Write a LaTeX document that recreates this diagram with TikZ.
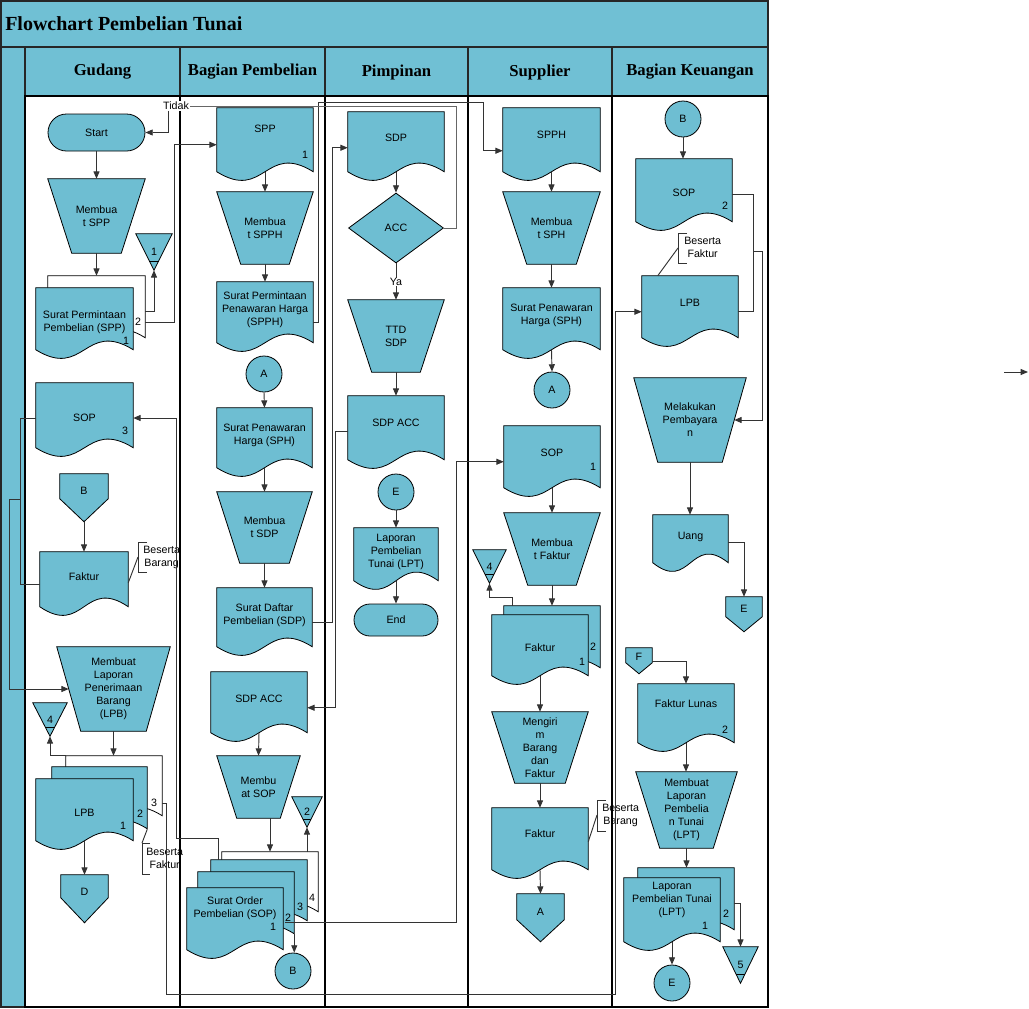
\documentclass[tikz,border=0pt]{standalone}
\usepackage{fontspec}
\setmainfont{Liberation Sans}
\newfontfamily\headfont{Liberation Serif}
\usetikzlibrary{calc,arrows.meta,shapes.geometric,shapes.misc}
\definecolor{sfill}{RGB}{110,190,210}
\definecolor{hfill}{RGB}{112,192,212}
\pgfdeclarelayer{lanes}
\pgfdeclarelayer{shapes}
\pgfsetlayers{lanes,shapes,main}
\newcommand\bodyf{\fontsize{8}{9.75}\selectfont}
\newcommand\docshape[3][sfill]{%
 \begin{pgfonlayer}{shapes}
 \filldraw[fill=#1,draw=black,line width=0.6pt] (#2.north west) -- (#2.north east) -- ($(#2.north east)+(0,#3)$) .. controls ($(#2.north)+(0,#3-30)$) and ($(#2.north)+(0,#3+30)$) .. ($(#2.north west)+(0,#3)$) -- cycle;
 \end{pgfonlayer}
 \coordinate (#2-b) at ($(#2.north)+(0,#3)$);}
\newcommand\trapshape[2]{%
 \begin{pgfonlayer}{shapes}
 \filldraw[fill=sfill,draw=black,line width=0.6pt] (#1.north west) -- (#1.north east) -- ($(#1.south east)+(-#2,0)$) -- ($(#1.south west)+(#2,0)$) -- cycle;
 \end{pgfonlayer}
 \coordinate (#1-l) at ($(#1.west)+(#2/2,0)$);
 \coordinate (#1-r) at ($(#1.east)+(-#2/2,0)$);}
\newcommand\offshape[3]{%
 \begin{pgfonlayer}{shapes}
 \filldraw[fill=sfill,draw=black,line width=0.6pt] (#1.north west) -- (#1.north east) -- ($(#1.north east)+(0,#2)$) -- ($(#1.north)+(0,#3)$) -- ($(#1.north west)+(0,#2)$) -- cycle;
 \end{pgfonlayer}
 \coordinate (#1-t) at ($(#1.north)+(0,#3)$);}
\newcommand\trishape[1]{%
 \begin{pgfonlayer}{shapes}
 \filldraw[fill=sfill,draw=black,line width=0.6pt] (#1.north west) -- (#1.north east) -- (#1.south) -- cycle;
 \draw[line width=0.6pt] ($(#1.north west)!0.75!(#1.south)$) -- ($(#1.north east)!0.75!(#1.south)$);
 \end{pgfonlayer}}
\begin{document}
\begin{tikzpicture}[x=0.75pt,y=-0.75pt,
 bx/.style 2 args={inner sep=0pt,minimum width=#1*0.75pt,minimum height=#2*0.75pt,align=center,font=\bodyf},
 lbl/.style={inner sep=0.5pt,font=\bodyf},
 ann/.style={inner sep=0pt,font=\bodyf,align=center,anchor=west},
 circ/.style={circle,draw=black,line width=0.6pt,fill=sfill,inner sep=0pt,minimum size=27pt,font=\bodyf},
 term/.style 2 args={rounded rectangle,draw=black,line width=0.6pt,fill=sfill,inner sep=0pt,minimum width=#1*0.75pt,minimum height=#2*0.75pt,font=\bodyf},
 conn/.style={draw=black!80,line width=0.7pt},
 arr/.style={conn,-{Triangle[length=5.5pt,width=4.5pt]}},
 hdr/.style={inner sep=0pt,font=\headfont\bfseries\fontsize{12.5}{15}\selectfont}]
\useasboundingbox (0,0) rectangle (1029,1008);
\begin{pgfonlayer}{lanes}
\fill[white] (0,0) rectangle (1029,1008);
\filldraw[fill=hfill,draw=black!85,line width=1.4pt] (0.9,0.9) rectangle (768,47);
\filldraw[fill=hfill,draw=black!85,line width=1.4pt] (0.9,47) rectangle (25,1007.1);
\foreach \a/\b in {25/180,180/325,325/468,468/612,612/768}
  \filldraw[fill=hfill,draw=black!85,line width=1.4pt] (\a,47) rectangle (\b,96);
\draw[line width=1.1pt] (25,96) rectangle (768,1007);
\foreach \a in {180,325,468,612} \draw[line width=1pt] (\a,96) -- (\a,1007);
\end{pgfonlayer}
% title and headers
\node[anchor=west,inner sep=0pt,font=\headfont\bfseries\fontsize{15}{18}\selectfont] (title) at (5,24) {Flowchart Pembelian Tunai};
\node[hdr] (h1) at (102.5,72) {Gudang};
\node[hdr] (h2) at (252.5,72) {Bagian Pembelian};
\node[hdr] (h3) at (396.5,72) {Pimpinan};
\node[hdr] (h4) at (540,72) {Supplier};
\node[hdr] (h5) at (690,72) {Bagian Keuangan};
% ---------------- Gudang
\node[term={97}{37}] (start) at (96.5,132.5) {Start};
\node[bx={97}{74}] (mspp) at (96.5,216) {Membua\\t SPP}; \trapshape{mspp}{24}
\node[bx={36}{36}] (tri1) at (154,252) {1}; \trishape{tri1}
\node[bx={97}{62}] (sppB) at (96.5,307) {}; \docshape[white]{sppB}{62}
\node[bx={97}{69}] (sppA) at (84.5,322.5) {Surat Permintaan\\Pembelian (SPP)}; \docshape{sppA}{62}
\node[lbl] (sppA1) at (126,341) {1};
\node[lbl] (sppB2) at (138,322) {2};
\node[bx={97}{70}] (sop3) at (84.5,418) {SOP}; \docshape{sop3}{65}
\node[lbl] (sop3n) at (125,431) {3};
\node[bx={48}{34}] (bG) at (84,491) {B}; \offshape{bG}{25}{48}
\node[bx={88}{50}] (fak1) at (84,577) {Faktur}; \docshape{fak1}{55}
\node[ann] (ann1) at (143,557) {Beserta\\Barang};
\draw[conn] (147,542) -- (138,542) -- (138,572) -- (147,572);
\coordinate (br1) at (138,557);
\draw[conn] (br1) -- ($(fak1.north east)+(0,31)$);
\node[bx={113}{84}] (mlpb) at (113.5,689) {Membuat\\Laporan\\Penerimaan\\Barang\\(LPB)}; \trapshape{mlpb}{24}
\node[bx={34}{33}] (tri4g) at (50,719.5) {4}; \trishape{tri4g}
\node[bx={96}{60}] (lpbC) at (114,786) {}; \docshape[white]{lpbC}{60}
\node[bx={95}{62}] (lpbB) at (99.5,798) {}; \docshape{lpbB}{62}
\node[bx={97}{68}] (lpbA) at (84.5,813) {LPB}; \docshape{lpbA}{62}
\node[lbl] (lpbA1) at (123,826) {1};
\node[lbl] (lpbB2) at (140,814) {2};
\node[lbl] (lpbC3) at (154,803) {3};
\node[bx={47}{34}] (dG) at (84.5,892) {D}; \offshape{dG}{23}{48}
\node[ann] (ann2) at (146,858) {Beserta\\Faktur};
\draw[conn] (150,843) -- (142,843) -- (142,874) -- (150,874);
\coordinate (br2) at (142,843);
\draw[conn] (lpbB.south east) -- (br2);
% ---------------- Bagian Pembelian
\node[bx={96}{42}] (sppP) at (265,129) {SPP}; \docshape{sppP}{64}
\node[lbl] (sppP1) at (305,155) {1};
\node[bx={96}{72}] (mspph) at (265,228) {Membua\\t SPPH}; \trapshape{mspph}{24}
\node[bx={96}{56}] (spph) at (265,310) {Surat Permintaan\\Penawaran Harga\\(SPPH)}; \docshape{spph}{61}
\node[circ] (aP) at (264,374) {A};
\node[bx={95}{55}] (sphP) at (264.5,435.5) {Surat Penawaran\\Harga (SPH)}; \docshape{sphP}{60}
\node[bx={95}{71}] (msdp) at (264.5,527.5) {Membua\\t SDP}; \trapshape{msdp}{23}
\node[bx={95}{54}] (sdpP) at (264.5,615) {Surat Daftar\\Pembelian (SDP)}; \docshape{sdpP}{59}
\node[bx={96}{54}] (sdpaccP) at (259,699) {SDP ACC}; \docshape{sdpaccP}{61}
\node[bx={83}{62}] (msop) at (258.5,787) {Membu\\at SOP}; \trapshape{msop}{20}
\node[bx={30}{30}] (tri2) at (307,812) {2}; \trishape{tri2}
\node[bx={96}{60}] (sopD) at (270,882) {}; \docshape[white]{sopD}{60}
\node[bx={96}{61}] (sopC) at (259,890.5) {}; \docshape{sopC}{61}
\node[bx={96}{62}] (sopB) at (246,903) {}; \docshape{sopB}{62}
\node[bx={96}{41}] (sopA) at (235,908.5) {Surat Order\\Pembelian (SOP)}; \docshape{sopA}{62}
\node[lbl] (sopA1) at (273,927) {1};
\node[lbl] (sopB2) at (288,918) {2};
\node[lbl] (sopC3) at (300,907) {3};
\node[lbl] (sopD4) at (312,898) {4};
\node[circ] (bP) at (293,971) {B};
% ---------------- Pimpinan
\node[bx={96}{52}] (sdpPim) at (396,138) {SDP}; \docshape{sdpPim}{60}
\node[diamond,draw=black,line width=0.6pt,fill=sfill,inner sep=0pt,minimum width=95*0.75pt,minimum height=70*0.75pt,font=\bodyf] (acc) at (396,228) {ACC};
\node[bx={96}{72}] (ttd) at (396,336) {TTD\\SDP}; \trapshape{ttd}{24}
\node[bx={96}{54}] (sdpaccPim) at (396,423) {SDP ACC}; \docshape{sdpaccPim}{64}
\node[circ] (ePim) at (396,492) {E};
\node[bx={84}{48}] (lptPim) at (396,552) {Laporan\\Pembelian\\Tunai (LPT)}; \docshape{lptPim}{53}
\node[term={84}{32}] (endT) at (396,620) {End};
% ---------------- Supplier
\node[bx={97}{54}] (spphS) at (551.5,135) {SPPH}; \docshape{spphS}{64}
\node[bx={97}{72}] (msph) at (551.5,228) {Membua\\t SPH}; \trapshape{msph}{24}
\node[bx={97}{55}] (sphS) at (551.5,315.5) {Surat Penawaran\\Harga (SPH)}; \docshape{sphS}{62}
\node[circ] (aS) at (552,390) {A};
\node[bx={96}{54}] (sopS) at (552,453) {SOP}; \docshape{sopS}{62}
\node[lbl] (sopS1) at (593,467) {1};
\node[bx={96}{72}] (mfak) at (552,549) {Membua\\t Faktur}; \trapshape{mfak}{24}
\node[bx={33}{33}] (tri4s) at (489.5,566.5) {4}; \trishape{tri4s}
\node[bx={96}{62}] (fakSB) at (552,637) {}; \docshape{fakSB}{62}
\node[bx={96}{66}] (fakSA) at (540,648) {Faktur}; \docshape{fakSA}{61}
\node[lbl] (fakSA1) at (582,662) {1};
\node[lbl] (fakSB2) at (593,647) {2};
\node[bx={96}{71}] (mkirim) at (540,747.5) {Mengiri\\m\\Barang\\dan\\Faktur}; \trapshape{mkirim}{23}
\node[bx={96}{52}] (fakS2) at (540,834) {Faktur}; \docshape{fakS2}{62}
\node[ann] (ann3) at (602,815) {Beserta\\Barang};
\draw[conn] (606,800) -- (597,800) -- (597,831) -- (606,831);
\coordinate (br3) at (597,815);
\draw[conn] (br3) -- ($(fakS2.north east)+(0,34)$);
\node[bx={47}{36}] (aOff) at (540.5,912) {A}; \offshape{aOff}{26}{48}
% ---------------- Bagian Keuangan
\node[circ] (bK) at (683,119) {B};
\node[bx={96}{68}] (sopK) at (684,193) {SOP}; \docshape{sopK}{63}
\node[lbl] (sopK2) at (725,206) {2};
\node[bx={96}{54}] (lpbK) at (690,303) {LPB}; \docshape{lpbK}{62}
\node[ann] (ann4) at (684,247) {Beserta\\Faktur};
\draw[conn] (687,233) -- (678,233) -- (678,263) -- (687,263);
\coordinate (br4) at (678,248);
\draw[conn] (br4) -- ($(lpbK.north west)+(16,0)$);
\node[bx={112}{84}] (mbayar) at (690,420) {Melakukan\\Pembayara\\n}; \trapshape{mbayar}{24}
\node[bx={75}{44}] (uang) at (690.5,537) {Uang}; \docshape{uang}{48}
\node[bx={36}{24}] (eOffK) at (744,609) {E}; \offshape{eOffK}{20}{35}
\node[bx={26}{18}] (fOff) at (639,657) {F}; \offshape{fOff}{15}{26}
\node[bx={96}{40}] (fakL) at (686,704) {Faktur Lunas}; \docshape{fakL}{59}
\node[lbl] (fakL2) at (725,730) {2};
\node[bx={101}{76}] (mlpt) at (686.5,810) {Membuat\\Laporan\\Pembelia\\n Tunai\\(LPT)}; \trapshape{mlpt}{24}
\node[bx={96}{62}] (lptKB) at (686,899) {}; \docshape{lptKB}{62}
\node[bx={96}{43}] (lptKA) at (672,899.5) {Laporan\\Pembelian Tunai\\(LPT)}; \docshape{lptKA}{64}
\node[lbl] (lptKA1) at (705,926) {1};
\node[lbl] (lptKB2) at (726,914) {2};
\node[bx={35}{36}] (tri5) at (740.5,965) {5}; \trishape{tri5}
\node[circ] (eK) at (672,983) {E};
% ---------------- Gudang connectors
\draw[arr] (start.south) -- (mspp.north);
\draw[arr] (mspp.south) -- (mspp.south |- sppB.north);
\draw[arr] ($(sppB.north east)+(0,36)$) -| (tri1.south);
\draw[arr] ($(sppB.north east)+(0,47)$) -- ++(29,0) |- ($(sppP.north west)+(0,37)$);
\draw[conn] (sop3.west) -- ++(-15,0) |- ($(fak1.north west)+(0,33)$);
\coordinate (j1) at ($(sop3.west)+(-15,81)$);
\draw[arr] (j1) -- ++(-11,0) |- (mlpb-l);
\draw[arr] (bG-t) -- (fak1.north);
\draw[arr] (mlpb.south) -- (mlpb.south |- lpbC.north);
\draw[arr] (lpbC.north west) -| (tri4g.south);
\draw[arr] (lpbA-b) -- (dG.north);
% ---------------- Pembelian connectors
\draw[arr] (sppP-b) -- (mspph.north);
\draw[arr] (mspph.south) -- (spph.north);
\draw[arr] (aP.south) -- (sphP.north);
\draw[arr] (sphP-b) -- (msdp.north);
\draw[arr] (msdp.south) -- (sdpP.north);
\draw[arr] (sdpaccP-b) -- (msop.north);
\draw[arr] (msop.south -| sopD.north) -- (sopD.north);
\draw[arr] (sopD.north -| tri2.south) -- (tri2.south);
\draw[arr] (sopB.south east) -- (sopB.south east |- bP.north);
\draw[arr] ($(sopC.north west)+(8,0)$) -- ++(0,-21) -| ($(sop3.east)+(43,0)$) -- (sop3.east);
\draw[arr] ($(sopB.north east)+(-9,51)$) -| ($(sopS.north west)+(-47,36)$) -- ($(sopS.north west)+(0,36)$);
\draw[arr] ($(spph.north east)+(0,41)$) -- ++(5,0) |- ($(spphS.north west)+(-19,-5)$) |- ($(spphS.north west)+(0,43)$);
\draw[arr] ($(sdpP.north east)+(0,35)$) -- ++(20,0) |- ($(sdpPim.north west)+(0,36)$);
\draw[arr] ($(sdpaccPim.north west)+(0,36)$) -- ++(-12,0) |- ($(sdpaccP.north east)+(0,36)$);
% ---------------- Pimpinan connectors
\draw[arr] (sdpPim-b) -- (acc.north);
\draw[arr] (acc.south) -- (ttd.north);
\node[lbl,fill=white] (ya) at (396,282) {Ya};
\draw[arr] (ttd.south) -- (sdpaccPim.north);
\draw[arr] (ePim.south) -- (lptPim.north);
\draw[arr] (lptPim-b) -- (endT.north);
\node[lbl,fill=white] (tidak) at (176,106) {Tidak};
\draw[conn,draw=black!60] (acc.east) -- ++(13,0) |- (tidak.east);
\draw[arr] ([xshift=-6pt]tidak.south) |- (start.east);
% ---------------- Supplier connectors
\draw[arr] (spphS-b) -- (msph.north);
\draw[arr] (msph.south) -- (sphS.north);
\draw[arr] (sphS-b) -- (aS.north);
\draw[arr] (sopS-b) -- (mfak.north);
\draw[arr] (mfak.south) -- (fakSB.north);
\draw[arr] ($(fakSB.north west)+(9,0)$) -- ++(0,-8) -| (tri4s.south);
\draw[arr] (fakSA-b) -- (mkirim.north);
\draw[arr] (mkirim.south) -- (fakS2.north);
\draw[arr] (fakS2-b) -- (aOff.north);
% ---------------- Keuangan connectors
\draw[arr] (bK.south) -- (bK.south |- sopK.north);
\draw[conn] ($(sopK.north east)+(0,36)$) -- ++(21,0) |- ($(lpbK.north east)+(0,36)$);
\coordinate (j2) at ($(sopK.north east)+(21,93)$);
\draw[arr] (j2) -- ++(9,0) |- (mbayar-r);
\draw[arr] (mbayar.south) -- (mbayar.south |- uang.north);
\draw[arr] ($(uang.north east)+(0,28)$) -| (eOffK.north);
\draw[arr] ($(fOff.north east)+(0,14)$) -| (fakL.north);
\draw[arr] (fakL-b) -- (fakL-b |- mlpt.north);
\draw[arr] (mlpt.south) -- (mlpt.south |- lptKB.north);
\draw[arr] ($(lptKB.north east)+(0,36)$) -| (tri5.north);
\draw[arr] (lptKA-b) -- (eK.north);
% long LPB connector
\draw[arr] ($(lpbC.north east)+(0,48)$) -- ++(4,0) -- ++(0,191) -| ($(lpbK.north west)+(-26,36)$) -- ($(lpbK.north west)+(0,36)$);
% stray arrow on the right
\coordinate (s1) at (1004,372);
\coordinate (s2) at (1028,372);
\draw[arr] (s1) -- (s2);
\end{tikzpicture}
\end{document}
